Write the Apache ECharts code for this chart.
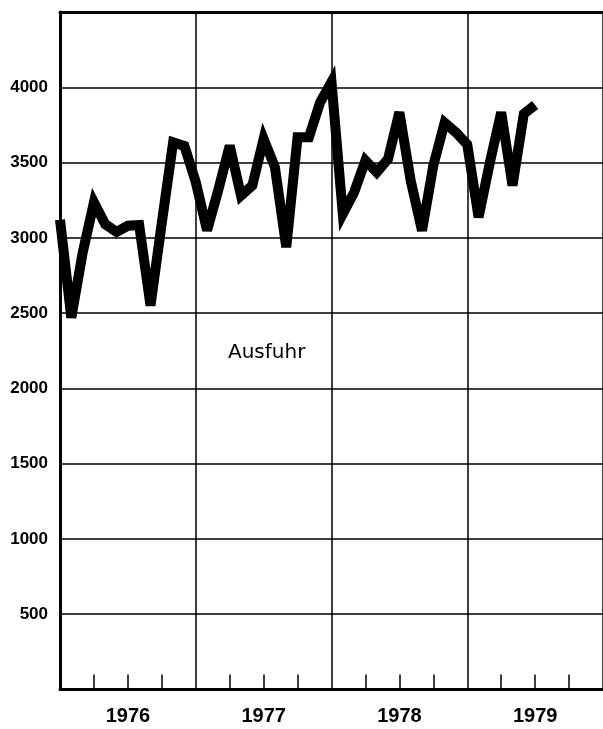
<!DOCTYPE html>
<html>
<head>
<meta charset="utf-8">
<script src="https://cdn.jsdelivr.net/npm/echarts@6/dist/echarts.min.js"></script>
<style>
  html, body { margin: 0; padding: 0; background: #fff; }
  #chart { width: 603px; height: 729px; }
</style>
</head>
<body>
<div id="chart"></div>
<script>
// Jahre auf der x-Achse
const years = ['1976', '1977', '1978', '1979']
// Ausfuhr, monatlich Jan 1976 .. Jul 1979
const exportValues = [
  3120, 2470, 2900, 3236, 3090, 3040, 3080, 3085, 2550, 3100, 3634, 3610,
  3370, 3050, 3320, 3612, 3280, 3347, 3657, 3469, 2938, 3668, 3668, 3900,
  4035, 3159, 3303, 3513, 3435, 3524, 3834, 3380, 3048, 3480, 3765, 3700,
  3620, 3137, 3500, 3834, 3347, 3823, 3882
]
// y-Achse
const yMin = 0
const yMax = 4500
const yStep = 500
const monthsShown = 48

const chart = echarts.init(document.getElementById('chart'))

const option = {
  backgroundColor: '#fff',
  animation: false,
  grid: { left: 60, top: 12, width: 547, height: 677.5 },
  xAxis: [
    {
      // Monatsachse unten, Quartalsstriche nach innen
      type: 'value',
      position: 'bottom',
      min: 0,
      max: monthsShown,
      interval: 12,
      axisLine: { lineStyle: { color: '#000', width: 3 } },
      axisTick: { show: false, inside: true },
      minorTick: { show: true, splitNumber: 4, length: 15, lineStyle: { color: '#000', width: 1.5 } },
      axisLabel: { show: false },
      splitLine: { show: true, lineStyle: { color: '#000', width: 1.5 } }
    },
    {
      // Jahresbeschriftung
      type: 'category',
      position: 'bottom',
      data: years,
      boundaryGap: true,
      axisLine: { show: false },
      axisTick: { show: false },
      axisLabel: {
        color: '#000',
        fontFamily: 'Liberation Sans',
        fontWeight: 'bold',
        fontSize: 20,
        margin: 17
      }
    },
    {
      // Rahmen oben
      type: 'value',
      position: 'top',
      min: 0,
      max: monthsShown,
      axisLine: { lineStyle: { color: '#000', width: 3 } },
      axisTick: { show: false },
      axisLabel: { show: false },
      splitLine: { show: false }
    }
  ],
  yAxis: {
    type: 'value',
    min: yMin,
    max: yMax,
    interval: yStep,
    axisLine: { show: true, lineStyle: { color: '#000', width: 3 } },
    axisTick: { show: false },
    axisLabel: {
      color: '#000',
      fontFamily: 'Liberation Sans',
      fontWeight: 'bold',
      fontSize: 17,
      margin: 12,
      formatter: v => (v === yMin || v === yMax) ? '' : String(v)
    },
    splitLine: { lineStyle: { color: '#000', width: 1.5 } }
  },
  graphic: [
    {
      type: 'text',
      left: 228,
      top: 343,
      style: {
        text: 'Ausfuhr',
        fill: '#000',
        font: '20px "DejaVu Sans"'
      }
    }
  ],
  series: [
    {
      name: 'Ausfuhr',
      type: 'line',
      xAxisIndex: 0,
      data: exportValues.map((v, i) => [i, v]),
      symbol: 'none',
      lineStyle: { color: '#000', width: 10, join: 'miter', miterLimit: 4 },
      clip: true
    }
  ]
}

chart.setOption(option)
</script>
</body>
</html>
